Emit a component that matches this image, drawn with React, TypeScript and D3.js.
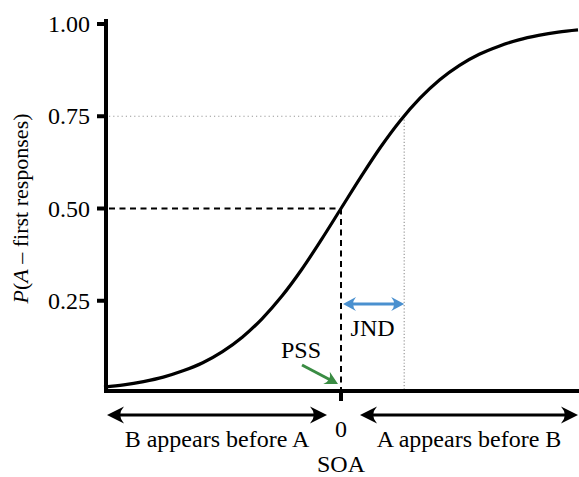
import React from "react";
import * as d3 from "d3";

// SOA (arbitrary units) vs. proportion of "A first" responses
const soaValues = [-120, -110, -100, -90, -80, -70, -60, -50, -40, -30, -20, -10, 0, 10, 20, 30, 40, 50, 60, 70, 80, 90, 100, 110, 120];
const pValues = [0.016, 0.022, 0.031, 0.043, 0.06, 0.082, 0.112, 0.151, 0.201, 0.262, 0.334, 0.415, 0.5, 0.585, 0.666, 0.738, 0.799, 0.849, 0.888, 0.918, 0.94, 0.957, 0.969, 0.978, 0.984];
const yTicks = [0.25, 0.5, 0.75, 1.0];
const pss = 0;
const jnd = 32;

const W = 579;
const H = 477;
const txt: React.CSSProperties = { fontFamily: "Liberation Serif", fontSize: 24 };
const BLUE = "#4a90cf";
const GREEN = "#3a8c43";

// latex-style "stealth" arrowhead pointing along +x, tip at origin
function headPath(len: number, half: number) {
  return `M0,0 L${-len},${-half} Q${-len * 0.55},0 ${-len},${half} Z`;
}

function DoubleArrow({ x1, x2, y, color, len, half, sw }: { x1: number; x2: number; y: number; color: string; len: number; half: number; sw: number }) {
  return (
    <g>
      <line x1={x1 + len * 0.6} x2={x2 - len * 0.6} y1={y} y2={y} stroke={color} strokeWidth={sw} />
      <path d={headPath(len, half)} transform={`translate(${x2},${y})`} fill={color} />
      <path d={headPath(len, half)} transform={`translate(${x1},${y}) rotate(180)`} fill={color} />
    </g>
  );
}

export default function App() {
  const x = d3.scaleLinear().domain([-120, 120]).range([104, 578]);
  const y = d3.scaleLinear().domain([0, 1]).range([393, 24]);

  const pts: [number, number][] = soaValues.map((s, i) => [s, pValues[i]]);
  const line = d3
    .line<[number, number]>()
    .x((d) => x(d[0]))
    .y((d) => y(d[1]))
    .curve(d3.curveMonotoneX);

  const axisX = 106;
  const axisY = y(0) - 2;
  const x0 = x(pss);
  const xj = x(pss + jnd);

  // PSS pointer
  const gx1 = 302, gy1 = 365, gx2 = x0 - 3, gy2 = axisY - 7;
  const ang = (Math.atan2(gy2 - gy1, gx2 - gx1) * 180) / Math.PI;
  const rad = (ang * Math.PI) / 180;

  return (
    <svg width={W} height={H} style={{ position: "absolute", left: 0, top: 0 }}>
      <rect width={W} height={H} fill="#fff" />

      {/* reference lines */}
      <line x1={axisX + 3} x2={xj} y1={y(0.75)} y2={y(0.75)} stroke="#999" strokeWidth={1.2} strokeDasharray="1.2,3" />
      <line x1={xj} x2={xj} y1={y(0.75)} y2={axisY} stroke="#999" strokeWidth={1.2} strokeDasharray="1.2,2" />
      <line x1={axisX + 3} x2={x0} y1={y(0.5)} y2={y(0.5)} stroke="#000" strokeWidth={2} strokeDasharray="6,4.5" />
      <line x1={x0} x2={x0} y1={y(0.5)} y2={axisY} stroke="#000" strokeWidth={2} strokeDasharray="6,4.5" />

      {/* psychometric curve */}
      <path d={line(pts) ?? ""} fill="none" stroke="#000" strokeWidth={3.2} />

      {/* y axis */}
      <line x1={axisX} x2={axisX} y1={19} y2={axisY + 2} stroke="#000" strokeWidth={4} />
      {yTicks.map((t) => (
        <g key={t}>
          <line x1={97} x2={axisX} y1={y(t)} y2={y(t)} stroke="#000" strokeWidth={4} />
          <text x={90} y={y(t) + 8} textAnchor="end" style={txt}>
            {d3.format(".2f")(t)}
          </text>
        </g>
      ))}
      <text transform={`translate(28,${y(0.5)}) rotate(-90)`} textAnchor="middle" style={{ ...txt, fontSize: 22 }}>
        <tspan fontStyle="italic">P</tspan>
        <tspan>(</tspan>
        <tspan fontStyle="italic">A</tspan>
        <tspan>{" \u2013 first responses)"}</tspan>
      </text>

      {/* x axis */}
      <line x1={104} x2={W} y1={axisY} y2={axisY} stroke="#000" strokeWidth={4} />
      <line x1={x0} x2={x0} y1={axisY} y2={axisY + 10} stroke="#000" strokeWidth={4} />
      <text x={x0} y={437} textAnchor="middle" style={txt}>
        0
      </text>
      <text x={x0} y={472} textAnchor="middle" style={txt}>
        SOA
      </text>

      <DoubleArrow x1={107} x2={x0 - 14} y={415} color="#000" len={17} half={8.5} sw={3} />
      <DoubleArrow x1={x0 + 19} x2={578} y={415} color="#000" len={17} half={8.5} sw={3} />
      <text x={(107 + x0 - 14) / 2} y={447} textAnchor="middle" style={txt}>
        B appears before A
      </text>
      <text x={(x0 + 19 + 578) / 2} y={447} textAnchor="middle" style={txt}>
        A appears before B
      </text>

      {/* JND */}
      <DoubleArrow x1={x0 + 2} x2={xj} y={304} color={BLUE} len={13} half={7} sw={3} />
      <text x={(x0 + xj) / 2} y={336} textAnchor="middle" style={txt}>
        JND
      </text>

      {/* PSS */}
      <text x={301} y={358} textAnchor="middle" style={txt}>
        PSS
      </text>
      <line x1={gx1} y1={gy1} x2={gx2 - 8 * Math.cos(rad)} y2={gy2 - 8 * Math.sin(rad)} stroke={GREEN} strokeWidth={3} />
      <path d={headPath(13, 7)} transform={`translate(${gx2},${gy2}) rotate(${ang})`} fill={GREEN} />
    </svg>
  );
}
